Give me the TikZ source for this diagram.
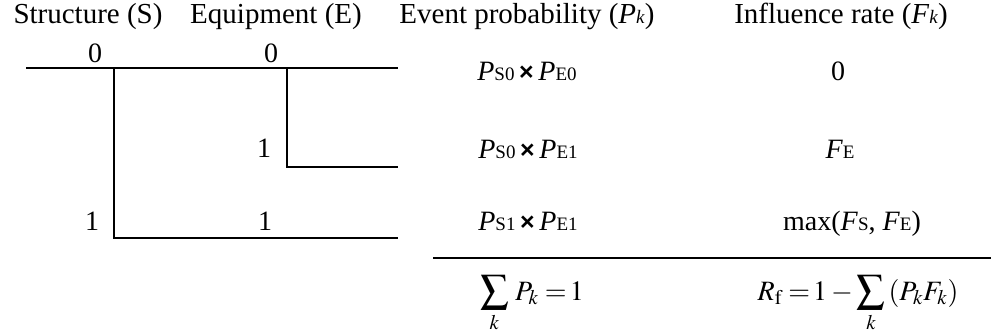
\documentclass[tikz,border=0pt]{standalone}
\usepackage{mathptmx}
\usepackage{fontspec}
\setmainfont{Liberation Serif}
\newfontfamily\sansx{Liberation Sans}
\newcommand\sbs[1]{{\fontsize{19}{20}\selectfont #1}}
\newcommand\PPx[1]{\textit{P}\sbs{#1}}
\newcommand\FFx[1]{\textit{F}\sbs{#1}}
\newcommand\tmsx{\,{\sansx\fontsize{25}{25}\selectfont\bfseries ×}\,}
\begin{document}
\begin{tikzpicture}[x=1pt,y=-1pt,
  lbl/.style={inner sep=0pt, anchor=base, font=\fontsize{28}{32}\selectfont},
  hdr/.style={lbl, font=\fontsize{29}{32}\selectfont},
  br/.style={line width=2.6pt, line join=miter, line cap=rect}]
\useasboundingbox (0,0) rectangle (991,333);
% headers
\node[hdr] (hS) at (88,23) {Structure (S)};
\node[hdr] (hE) at (276,23) {Equipment (E)};
\node[hdr] (hP) at (527,23) {Event probability (\textit{P}\sbs{\textit{k}})};
\node[hdr] (hF) at (841,23) {Influence rate (\textit{F}\sbs{\textit{k}})};
% tree
\coordinate (root) at (27,68);
\coordinate (sS) at (114,68);
\coordinate (sE) at (287,68);
\coordinate (endA) at (397,68);
\coordinate (endB) at (397,167);
\coordinate (endC) at (397,238);
\draw[br] (root) -- (endA);
\draw[br] (sS) |- (endC);
\draw[br] (sE) |- (endB);
\node[lbl] (l0S) at (95,62) {0};
\node[lbl] (l0E) at (271,62) {0};
\node[lbl] (l1E) at (264,157) {1};
\node[lbl] (l1S) at (92,230) {1};
\node[lbl] (l1E2) at (265,230) {1};
% probabilities
\node[lbl] (p1) at (527,80) {\PPx{S0}\tmsx\PPx{E0}};
\node[lbl] (p2) at (528,158) {\PPx{S0}\tmsx\PPx{E1}};
\node[lbl] (p3) at (528,230) {\PPx{S1}\tmsx\PPx{E1}};
% influence
\node[lbl] (f1) at (838,80) {0};
\node[lbl] (f2) at (840,158) {\FFx{E}};
\node[lbl] (f3) at (852,230) {max(\FFx{S}, \FFx{E})};
% separator
\coordinate (sepL) at (433,258);
\coordinate (sepR) at (991,258);
\draw[line width=2.6pt] (sepL) -- (sepR);
% sums
\node[lbl] (sumP) at (532,300) {$\displaystyle\sum_k\,P_k\;{=}\,1$};
\node[lbl] (sumR) at (858,300) {$R_{\mathrm f}\;{=}\,1-\displaystyle\sum_k\,(P_kF_k)$};
\end{tikzpicture}
\end{document}
